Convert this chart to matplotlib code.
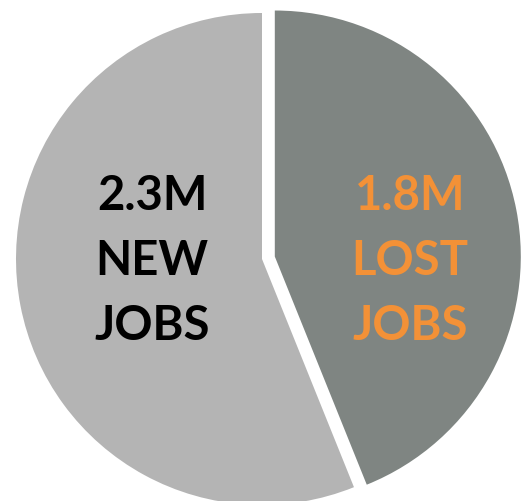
import matplotlib
matplotlib.use("Agg")
import matplotlib.pyplot as plt

# Job flows (millions)
labels = ["NEW JOBS", "LOST JOBS"]
values = [2.3, 1.8]
value_text = ["2.3M", "1.8M"]
slice_colors = ["#b4b4b4", "#7f8582"]
text_colors = ["#000000", "#f39137"]

W, H, DPI = 528, 501, 100
R_PX = 246.0           # pie radius in pixels
CX, CY = 262.0, 259.0  # pie centre in pixels (from top-left)

fig = plt.figure(figsize=(W / DPI, H / DPI), dpi=DPI)
ax = fig.add_axes([0, 0, 1, 1])
ax.set_axis_off()

# lost-jobs slice runs clockwise from 12 o'clock, new-jobs slice fills the rest
ax.pie(
    [values[1], values[0]],
    colors=[slice_colors[1], slice_colors[0]],
    startangle=90,
    counterclock=False,
    explode=[0.053, 0.0],
    radius=1.0,
    wedgeprops=dict(linewidth=0),
)

ax.set_xlim(-CX / R_PX, (W - CX) / R_PX)
ax.set_ylim(-(H - CY) / R_PX, CY / R_PX)
ax.set_aspect("auto")


def px_y(py):
    return (CY - py) / R_PX


def px_x(px):
    return (px - CX) / R_PX


text_cx = [152, 410]
baselines = [210, 275, 340]
for i in range(2):
    words = labels[i].split()
    lines = [value_text[i]] + words
    for line, by in zip(lines, baselines):
        ax.text(px_x(text_cx[i]), px_y(by), line, ha="center", va="baseline",
                fontsize=34, fontfamily="Lato", fontweight="bold",
                color=text_colors[i])

fig.savefig("out.png", dpi=DPI)
